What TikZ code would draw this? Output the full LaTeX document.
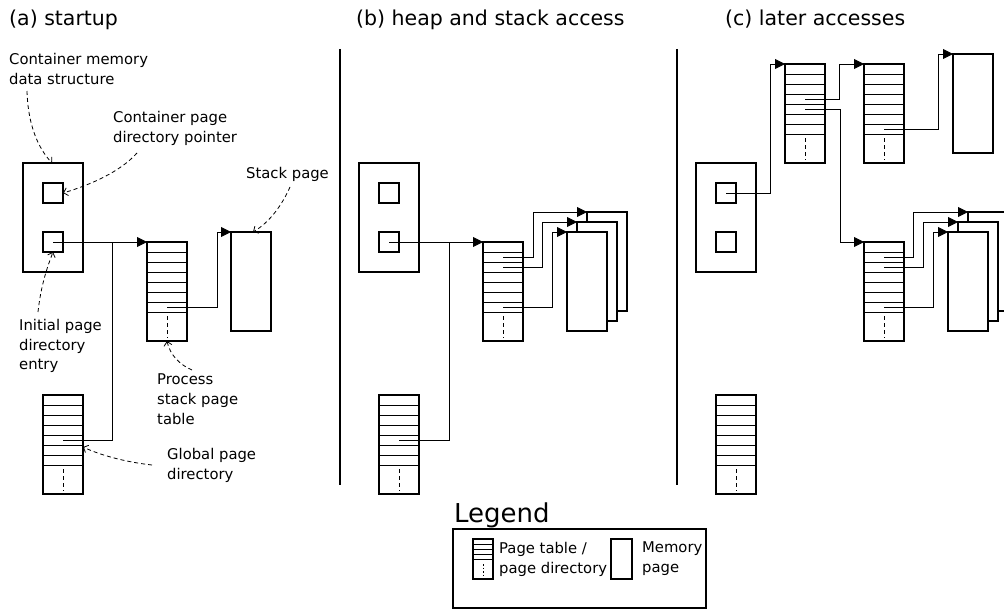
\documentclass[tikz,border=0pt]{standalone}
\usepackage{fontspec}
\setmainfont{DejaVu Sans}
\usetikzlibrary{arrows.meta,calc}
\begin{document}
\begin{tikzpicture}[x=1pt,y=-1pt,
  box/.style={draw,line width=1.9pt,inner sep=0pt,outer sep=0pt,anchor=north west},
  container/.style={box,minimum width=60pt,minimum height=109pt},
  slot/.style={box,minimum width=20pt,minimum height=20pt},
  mempage/.style={box,fill=white,minimum width=40pt,minimum height=99pt},
  pagetable/.style={box,minimum width=40pt,minimum height=99pt,
    path picture={
      \foreach \k in {1,...,7}
        \draw[line width=0.8pt] ([yshift=-\k*10pt]path picture bounding box.north west) -- ([yshift=-\k*10pt]path picture bounding box.north east);
      \draw[line width=0.8pt,dash pattern=on 4pt off 3pt] ([yshift=-74pt]path picture bounding box.north) -- ([yshift=-96pt]path picture bounding box.north);
    }},
  minitable/.style={box,line width=1.3pt,minimum width=20pt,minimum height=40pt,
    path picture={
      \foreach \k in {1,...,4}
        \draw[line width=0.7pt] ([yshift=-\k*5pt]path picture bounding box.north west) -- ([yshift=-\k*5pt]path picture bounding box.north east);
      \draw[line width=0.7pt,dash pattern=on 1.5pt off 2pt] ([yshift=-25pt]path picture bounding box.north) -- ([yshift=-36pt]path picture bounding box.north);
    }},
  conn/.style={line width=0.9pt},
  ptr/.style={conn,-{Triangle[length=10pt,width=10pt]}},
  note/.style={line width=0.8pt,dash pattern=on 4pt off 3pt,-{Straight Barb[length=4pt,width=8pt]}},
  lbl/.style={anchor=north west,inner sep=0pt,align=left,font=\fontsize{14.8}{19.7}\selectfont},
  ttl/.style={anchor=north west,inner sep=0pt,font=\fontsize{20.5}{24}\selectfont},
  sep/.style={line width=1.6pt},
]
\useasboundingbox (0,0) rectangle (1004,610);
\clip (0,0) rectangle (1004,610);

% titles
\node[ttl] (ta) at (9,10) {(a) startup};
\node[ttl] (tb) at (356,10) {(b) heap and stack access};
\node[ttl] (tc) at (725,10) {(c) later accesses};

% separators
\coordinate (s1t) at (340,49); \coordinate (s1b) at (340,485);
\coordinate (s2t) at (677,49); \coordinate (s2b) at (677,485);
\draw[sep] (s1t) -- (s1b);
\draw[sep] (s2t) -- (s2b);

% ---------------- panel (a)
\node[container] (ca) at (23,163) {};
\node[slot] (pa1) at (43,183) {};
\node[slot] (pa2) at (43,232) {};
\node[pagetable] (pta) at (147,242) {};
\node[mempage] (spa) at (231,232) {};
\node[pagetable] (gda) at (43,395) {};
\coordinate (ja) at (112,242);
\draw[ptr] (pa2.center) -- (pta.north west);
\draw[conn] ([yshift=-45pt]gda.north) -| (ja);
\draw[ptr] ([yshift=-65pt]pta.north) -- ++(50,0) |- (spa.north west);

\node[lbl] (l1) at (9,53) {Container memory\\data structure};
\node[lbl] (l2) at (113,111) {Container page\\directory pointer};
\node[lbl] (l3) at (246,167) {Stack page};
\node[lbl] (l4) at (19,319) {Initial page\\directory\\entry};
\node[lbl] (l5) at (157,374) {Process\\stack page\\table};
\node[lbl] (l6) at (167,448) {Global page\\directory};

\coordinate (n1s) at (27,91);
\coordinate (n2s) at (137,153);
\coordinate (n3s) at (290,187);
\coordinate (n4s) at (38,312);
\coordinate (n5s) at (192,370);
\coordinate (n6s) at (152,465);
\draw[note] (n1s) .. controls (28,125) and (38,148) .. ([xshift=29pt]ca.north west);
\draw[note] (n2s) .. controls (120,172) and (90,185) .. (pa1.east);
\draw[note] (n3s) .. controls (282,205) and (270,222) .. ([xshift=22pt]spa.north west);
\draw[note] (n4s) .. controls (41,285) and (47,268) .. (pa2.south);
\draw[note] (n5s) .. controls (180,365) and (170,355) .. (pta.south);
\draw[note] (n6s) .. controls (125,462) and (100,455) .. ([yshift=-52pt]gda.north east);

% ---------------- panel (b)
\node[container] (cb) at (359,163) {};
\node[slot] (pb1) at (379,183) {};
\node[slot] (pb2) at (379,232) {};
\node[pagetable] (ptb) at (483,242) {};
\node[pagetable] (gdb) at (379,395) {};
\node[mempage] (mb3) at (587,212) {};
\node[mempage] (mb2) at (577,222) {};
\node[mempage] (mb1) at (567,232) {};
\coordinate (jb) at (449,242);
\draw[ptr] (pb2.center) -- (ptb.north west);
\draw[conn] ([yshift=-45pt]gdb.north) -| (jb);
\draw[ptr] ([yshift=-15pt]ptb.north) -- ++(30,0) |- (mb3.north west);
\draw[ptr] ([yshift=-25pt]ptb.north) -- ++(39,0) |- (mb2.north west);
\draw[ptr] ([yshift=-65pt]ptb.north) -- ++(49,0) |- (mb1.north west);

% ---------------- panel (c)
\node[container] (cc) at (696,163) {};
\node[slot] (pc1) at (716,183) {};
\node[slot] (pc2) at (716,232) {};
\node[pagetable] (pt1) at (785,64) {};
\node[pagetable] (pt2) at (864,64) {};
\node[pagetable] (pt3) at (864,242) {};
\node[mempage] (mc0) at (953,54) {};
\node[mempage] (mc3) at (968,212) {};
\node[mempage] (mc2) at (958,222) {};
\node[mempage] (mc1) at (948,232) {};
\node[pagetable] (gdc) at (716,395) {};
\draw[ptr] (pc1.center) -- ++(44,0) |- (pt1.north west);
\draw[ptr] ([yshift=-35pt]pt1.north) -- ++(34,0) |- (pt2.north west);
\draw[ptr] ([yshift=-45pt]pt1.north) -- ++(35,0) |- (pt3.north west);
\draw[ptr] ([yshift=-65pt]pt2.north) -- ++(54,0) |- (mc0.north west);
\draw[ptr] ([yshift=-15pt]pt3.north) -- ++(29,0) |- (mc3.north west);
\draw[ptr] ([yshift=-25pt]pt3.north) -- ++(39,0) |- (mc2.north west);
\draw[ptr] ([yshift=-65pt]pt3.north) -- ++(49,0) |- (mc1.north west);

% ---------------- legend
\node[anchor=north west,inner sep=0pt,font=\fontsize{26}{30}\selectfont] (lg) at (454,503) {Legend};
\node[box,line width=1.5pt,minimum width=253pt,minimum height=79pt] (lgbox) at (453,529) {};
\node[minitable] (lgt) at (473,539) {};
\node[box,line width=1.3pt,minimum width=21pt,minimum height=40pt] (lgm) at (611,539) {};
\node[lbl] (lgtt) at (499,542) {Page table /\\page directory};
\node[lbl] (lgmt) at (642,542) {Memory\\page};
\end{tikzpicture}
\end{document}
